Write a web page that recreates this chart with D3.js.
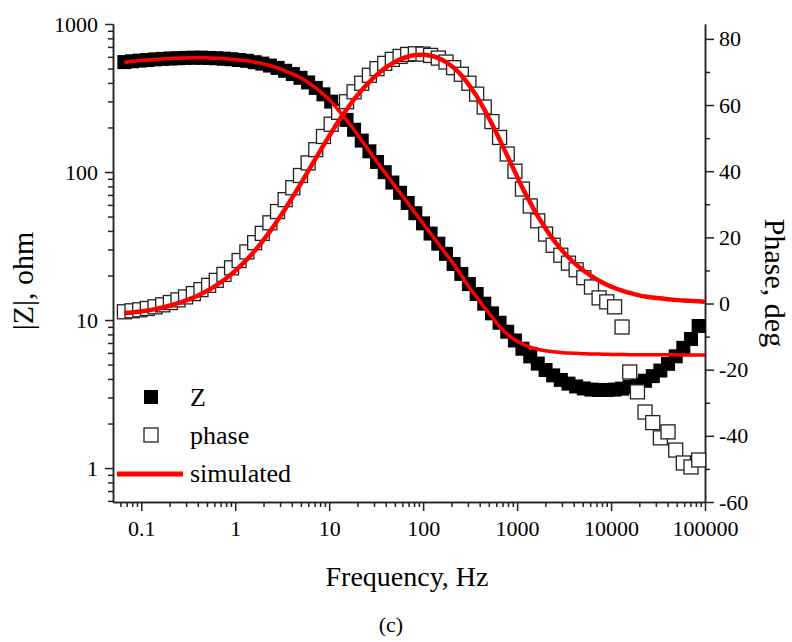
<!DOCTYPE html>
<html>

<head>
  <title>Impedance spectrum (c)</title>
  <script type="text/javascript" src="https://cdn.jsdelivr.net/npm/d3@7"></script>
  <style>
    body {
      margin: 0;
      background-color: white;
    }

    svg {
      display: block;
    }

    .axis path,
    .axis line {
      stroke: #222;
      stroke-width: 1.5px;
    }
  </style>
</head>

<body>
  <script type="text/javascript">

    // Frekvenser (Hz) for maalte punkter
    const freq = [0.0661, 0.0797, 0.0962, 0.116, 0.140, 0.169, 0.204, 0.246, 0.296, 0.358,
      0.432, 0.521, 0.628, 0.758, 0.914, 1.10, 1.33, 1.61, 1.94, 2.34,
      2.82, 3.40, 4.10, 4.95, 5.97, 7.20, 8.69, 10.5, 12.6, 15.3,
      18.4, 22.2, 26.8, 32.3, 39.0, 47.0, 56.8, 68.5, 82.6, 99.7,
      120, 145, 175, 211, 255, 307, 371, 447, 540, 651,
      785, 948, 1140, 1380, 1660, 2010, 2420, 2920, 3520, 4250,
      5130, 6190, 7460, 9010, 10900, 13100, 15800, 19100, 23000, 27800,
      33500, 40400, 48800, 58800, 71000, 85600];

    // |Z| (ohm), maalt
    const zMeas = [553, 560, 566, 571, 577, 581, 585, 587, 590, 592,
      592, 590, 587, 583, 578, 571, 564, 552, 540, 524,
      505, 483, 459, 433, 403, 370, 335, 299, 261, 225,
      193, 163, 138, 117, 99.8, 84.9, 72.4, 61.8, 52.7, 45.0,
      38.4, 32.8, 28.0, 23.9, 20.5, 17.5, 15.0, 12.9, 11.1, 9.59,
      8.34, 7.28, 6.40, 5.68, 5.08, 4.60, 4.23, 3.94, 3.72, 3.56,
      3.45, 3.39, 3.37, 3.37, 3.39, 3.44, 3.54, 3.68, 3.89, 4.18,
      4.56, 5.06, 5.69, 6.49, 7.45, 9.12];

    // Fase (grader), maalt
    const phaseMeas = [-2.5, -2.2, -1.9, -1.5, -1.0, -0.4, 0.3, 1.1, 2.0, 3.0,
      4.2, 5.5, 7.0, 8.8, 10.8, 13.0, 15.6, 18.4, 21.2, 24.4,
      27.8, 31.4, 35.0, 38.7, 42.5, 46.5, 50.5, 54.2, 57.8, 61.0,
      64.0, 66.6, 69.0, 71.0, 72.6, 73.8, 74.7, 75.3, 75.5, 75.4,
      75.0, 74.2, 73.0, 71.3, 69.3, 66.6, 63.3, 59.4, 55.0, 50.2,
      45.2, 40.0, 34.6, 29.5, 25.0, 21.0, 17.6, 14.6, 12.2, 10.2,
      7.8, 5.0, 1.7, 0.5, -1.0, -7.1, -20.7, -26.7, -32.8, -36.0,
      -40.6, -38.8, -44.3, -48.2, -49.4, -47.3];

    // Simulerede kurver gaar helt ud til 100 kHz
    const simFreq = freq.concat([100000]);

    const zSim = [548, 560, 566, 571, 577, 581, 585, 587, 590, 592,
      592, 590, 587, 583, 578, 571, 564, 552, 540, 524,
      505, 483, 459, 433, 403, 370, 335, 299, 261, 225,
      193, 163, 138, 117, 99.8, 84.9, 72.4, 61.8, 52.7, 45.0,
      38.4, 32.8, 28.0, 23.9, 20.0, 16.8, 14.3, 12.2, 10.5, 9.02,
      8.04, 7.33, 6.89, 6.56, 6.35, 6.21, 6.11, 6.04, 5.98, 5.96,
      5.93, 5.90, 5.89, 5.87, 5.86, 5.85, 5.84, 5.84, 5.84, 5.83,
      5.83, 5.82, 5.82, 5.81, 5.81, 5.81, 5.81];

    const phaseSim = [-2.9, -2.7, -2.4, -2.1, -1.7, -1.2, -0.6, 0.1, 0.9, 1.8,
      2.9, 4.1, 5.5, 7.1, 8.9, 11.0, 13.3, 15.9, 18.7, 21.8,
      25.1, 28.6, 32.3, 36.1, 40.0, 43.9, 47.8, 51.6, 55.2, 58.6,
      61.7, 64.5, 67.0, 69.2, 71.1, 72.6, 73.8, 74.6, 75.1, 75.2,
      74.9, 74.2, 73.0, 71.3, 69.0, 66.1, 62.7, 58.7, 54.3, 49.6,
      44.7, 39.8, 35.0, 30.5, 26.4, 22.7, 19.4, 16.5, 14.0, 11.8,
      9.9, 8.3, 6.9, 5.7, 4.7, 3.9, 3.2, 2.6, 2.1, 1.8,
      1.6, 1.3, 1.1, 0.9, 0.8, 0.7, 0.5];

    // Tick-labels
    const xTicks = [0.1, 1, 10, 100, 1000, 10000, 100000];
    const xTickLabels = ["0.1", "1", "10", "100", "1000", "10000", "100000"];
    const zTicks = [1, 10, 100, 1000];
    const zTickLabels = ["1", "10", "100", "1000"];
    const phaseTicks = [-60, -40, -20, 0, 20, 40, 60, 80];
    const phaseTickLabels = ["-60", "-40", "-20", "0", "20", "40", "60", "80"];

    const legendNames = ["Z", "phase", "simulated"];

    // Width og height
    const w = 792;
    const h = 642;
    const plotLeft = 113, plotRight = 705, plotTop = 24, plotBottom = 502;
    const serif = "'Liberation Serif', 'Times New Roman', serif";

    const measured = freq.map(function (f, i) {
      return { f: f, z: zMeas[i], p: phaseMeas[i] };
    });
    const simulated = simFreq.map(function (f, i) {
      return { f: f, z: zSim[i], p: phaseSim[i] };
    });

    // Skalaer
    const xScale = d3.scaleLog()
      .domain([0.05, 100000])
      .range([plotLeft, plotRight]);

    const zScale = d3.scaleLog()
      .domain([0.59, 1000])
      .range([plotBottom, plotTop]);

    const pScale = d3.scaleLinear()
      .domain([-60, 84.5])
      .range([plotBottom, plotTop]);

    // Mindre ticks (ingen labels)
    let xMinor = [];
    [0.01, 0.1, 1, 10, 100, 1000, 10000].forEach(function (dec) {
      d3.range(2, 10).forEach(function (k) {
        const v = dec * k;
        if (v > 0.05 && v < 100000) xMinor.push(v);
      });
    });
    let zMinor = [];
    [0.1, 1, 10, 100].forEach(function (dec) {
      d3.range(2, 10).forEach(function (k) {
        const v = dec * k;
        if (v > 0.59 && v < 1000) zMinor.push(v);
      });
    });
    const pMinor = [-50, -30, -10, 10, 30, 50, 70];

    // SVG-elementet
    const svg = d3.select("body")
      .append("svg")
      .attr("width", w)
      .attr("height", h);

    // Hjaelper: saet serif-font paa en akse-gruppe
    function styleAxis(g) {
      g.attr("font-family", serif).attr("font-size", 22);
      g.selectAll("text").attr("fill", "black");
    }

    // X-akse
    svg.append("g")
      .attr("class", "axis")
      .attr("transform", "translate(0," + plotBottom + ")")
      .call(d3.axisBottom(xScale).tickValues(xMinor).tickSize(5).tickFormat("").tickSizeOuter(0));

    svg.append("g")
      .attr("class", "axis")
      .attr("transform", "translate(0," + plotBottom + ")")
      .call(d3.axisBottom(xScale)
        .tickValues(xTicks)
        .tickSize(9)
        .tickPadding(9)
        .tickSizeOuter(0)
        .tickFormat(function (d, i) { return xTickLabels[i]; }))
      .call(styleAxis);

    // Venstre akse |Z|
    svg.append("g")
      .attr("class", "axis")
      .attr("transform", "translate(" + plotLeft + ",0)")
      .call(d3.axisLeft(zScale).tickValues(zMinor).tickSize(5).tickFormat("").tickSizeOuter(0));

    svg.append("g")
      .attr("class", "axis")
      .attr("transform", "translate(" + plotLeft + ",0)")
      .call(d3.axisLeft(zScale)
        .tickValues(zTicks)
        .tickSize(8)
        .tickPadding(7)
        .tickSizeOuter(0)
        .tickFormat(function (d, i) { return zTickLabels[i]; }))
      .call(styleAxis);

    // Hoejre akse (fase)
    svg.append("g")
      .attr("class", "axis")
      .attr("transform", "translate(" + plotRight + ",0)")
      .call(d3.axisRight(pScale).tickValues(pMinor).tickSize(5).tickFormat("").tickSizeOuter(0));

    svg.append("g")
      .attr("class", "axis")
      .attr("transform", "translate(" + plotRight + ",0)")
      .call(d3.axisRight(pScale)
        .tickValues(phaseTicks)
        .tickSize(9)
        .tickPadding(5)
        .tickSizeOuter(0)
        .tickFormat(function (d, i) { return phaseTickLabels[i]; }))
      .call(styleAxis);

    const s = 14; // markoerstoerrelse

    // |Z| punkter (fyldte firkanter)
    svg.selectAll("rect.zpt")
      .data(measured)
      .enter()
      .append("rect")
      .attr("class", "zpt")
      .attr("x", function (d) { return xScale(d.f) - s / 2; })
      .attr("y", function (d) { return zScale(d.z) - s / 2; })
      .attr("width", s)
      .attr("height", s)
      .attr("fill", "black");

    // Fase punkter (aabne firkanter)
    svg.selectAll("rect.ppt")
      .data(measured)
      .enter()
      .append("rect")
      .attr("class", "ppt")
      .attr("x", function (d) { return xScale(d.f) - s / 2; })
      .attr("y", function (d) { return pScale(d.p) - s / 2; })
      .attr("width", s)
      .attr("height", s)
      .attr("fill", "white")
      .attr("stroke", "#222")
      .attr("stroke-width", 1.3);

    // Simulerede linjer
    const zLine = d3.line()
      .x(function (d) { return xScale(d.f); })
      .y(function (d) { return zScale(d.z); })
      .curve(d3.curveMonotoneX);

    const pLine = d3.line()
      .x(function (d) { return xScale(d.f); })
      .y(function (d) { return pScale(d.p); })
      .curve(d3.curveMonotoneX);

    svg.append("path")
      .datum(simulated)
      .attr("d", zLine)
      .attr("fill", "none")
      .attr("stroke", "red")
      .attr("stroke-width", 3.5);

    svg.append("path")
      .datum(simulated)
      .attr("d", pLine)
      .attr("fill", "none")
      .attr("stroke", "red")
      .attr("stroke-width", 4.5);

    // Legend
    const legend = svg.append("g").attr("font-family", serif).attr("font-size", "26px");
    legend.append("rect")
      .attr("x", 151 - s / 2).attr("y", 397 - s / 2)
      .attr("width", s).attr("height", s)
      .attr("fill", "black");
    legend.append("rect")
      .attr("x", 151 - s / 2).attr("y", 435 - s / 2)
      .attr("width", s).attr("height", s)
      .attr("fill", "white").attr("stroke", "#222").attr("stroke-width", 1.3);
    legend.append("line")
      .attr("x1", 117).attr("x2", 183)
      .attr("y1", 474).attr("y2", 474)
      .attr("stroke", "red").attr("stroke-width", 5);
    legend.selectAll("text")
      .data(legendNames)
      .enter()
      .append("text")
      .attr("x", 190)
      .attr("y", function (d, i) { return 406 + i * 38; })
      .text(function (d) { return d; });

    // Aksetitler
    svg.append("text")
      .attr("transform", "translate(33,281) rotate(-90)")
      .attr("text-anchor", "middle")
      .attr("font-family", serif)
      .attr("font-size", "30px")
      .text("|Z|, ohm");

    svg.append("text")
      .attr("transform", "translate(765,283) rotate(90)")
      .attr("text-anchor", "middle")
      .attr("font-family", serif)
      .attr("font-size", "30px")
      .text("Phase, deg");

    svg.append("text")
      .attr("x", 407)
      .attr("y", 586)
      .attr("text-anchor", "middle")
      .attr("font-family", serif)
      .attr("font-size", "28px")
      .text("Frequency, Hz");

    svg.append("text")
      .attr("x", 391)
      .attr("y", 632)
      .attr("text-anchor", "middle")
      .attr("font-family", serif)
      .attr("font-size", "22px")
      .text("(c)");

  </script>
</body>

</html>
